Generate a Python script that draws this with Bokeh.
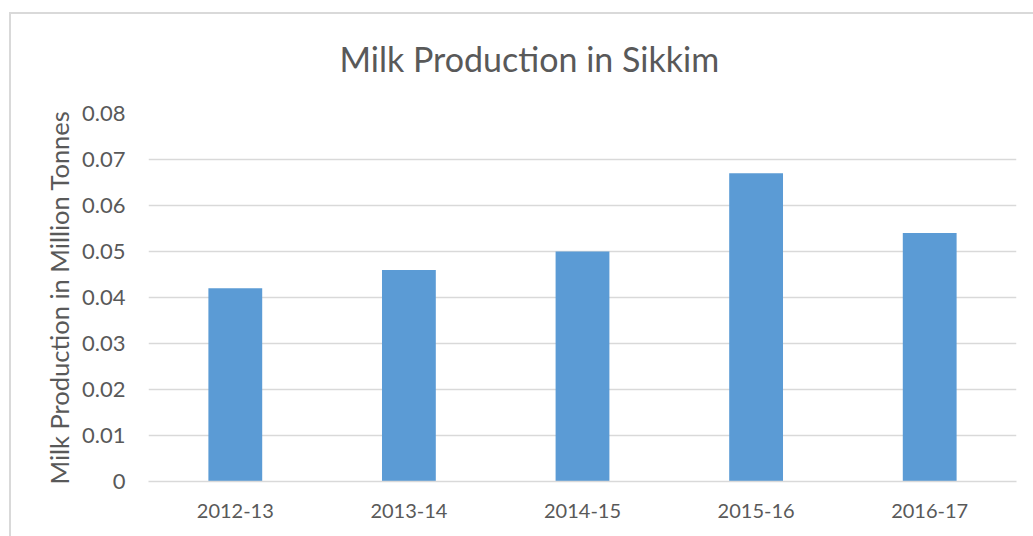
from bokeh.plotting import figure
from bokeh.models import FactorRange, Range1d, FixedTicker, CustomJSTickFormatter, InlineStyleSheet
from bokeh.embed import file_html
from bokeh.resources import INLINE

years = ["2012-13", "2013-14", "2014-15", "2015-16", "2016-17"]
production = [0.042, 0.046, 0.050, 0.067, 0.054]
y_ticks = [0, 0.01, 0.02, 0.03, 0.04, 0.05, 0.06, 0.07, 0.08]
title_text = "Milk Production in Sikkim"
y_label = "Milk Production in Million Tonnes"

TEXT = "#595959"
GRID = "#d9d9d9"
BAR = "#5B9BD5"
FONT = "Lato"

p = figure(width=1033, height=536, x_range=FactorRange(*years, range_padding=0),
           y_range=Range1d(0, 0.08), output_backend="svg", toolbar_location=None,
           min_border_left=148, min_border_right=17, min_border_top=112, min_border_bottom=55,
           title=title_text)
p.outline_line_color = None
p.background_fill_color = "white"
p.border_fill_color = "white"

p.title.align = "left"
p.title.offset = 191
p.title.standoff = 70
p.title.text_font = FONT
p.title.text_font_size = "34px"
p.title.text_font_style = "normal"
p.title.text_color = TEXT

p.vbar(x=years, top=production, width=0.31, fill_color=BAR, line_color=None)

p.xgrid.grid_line_color = None
p.ygrid.grid_line_color = GRID
p.ygrid.grid_line_width = 1.5
p.yaxis.ticker = FixedTicker(ticks=y_ticks)
p.yaxis.formatter = CustomJSTickFormatter(code="return tick == 0 ? '0' : tick.toFixed(2);")

p.yaxis.axis_line_color = None
p.yaxis.major_tick_line_color = None
p.yaxis.minor_tick_line_color = None
p.yaxis.major_label_standoff = 17
p.yaxis.major_label_text_font = FONT
p.yaxis.major_label_text_font_size = "22px"
p.yaxis.major_label_text_color = TEXT
p.yaxis.axis_label = y_label
p.yaxis.axis_label_text_font = FONT
p.yaxis.axis_label_text_font_size = "25.5px"
p.yaxis.axis_label_text_font_style = "normal"
p.yaxis.axis_label_text_color = TEXT
p.yaxis.axis_label_standoff = 5

p.xaxis.axis_line_color = GRID
p.xaxis.axis_line_width = 1.5
p.xaxis.major_tick_line_color = None
p.xaxis.minor_tick_line_color = None
p.xaxis.major_label_standoff = 16
p.xaxis.major_label_text_font = FONT
p.xaxis.major_label_text_font_size = "20px"
p.xaxis.major_label_text_color = TEXT

p.stylesheets = [InlineStyleSheet(css="""
:host { position: relative; }
:host::after {
  content: "";
  position: absolute;
  left: 9px; top: 12px; right: 0px; bottom: 0px;
  border-left: 2px solid #d9d9d9;
  border-top: 2px solid #d9d9d9;
  pointer-events: none;
  z-index: 10;
}
""")]

open("out.html", "w").write(file_html(p, INLINE))
